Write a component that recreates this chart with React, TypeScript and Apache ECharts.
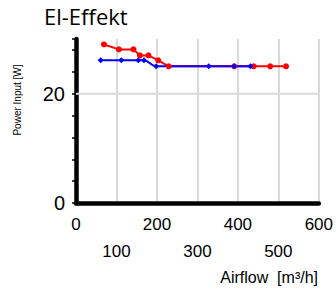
import React, { useEffect, useRef } from "react";
import * as echarts from "echarts";

const redX = [69, 106, 142, 158, 179, 203, 229, 391, 439, 480, 519];
const redY = [29, 28.1, 28.1, 27, 27, 26.1, 25, 25, 25, 25, 25];
const blueX = [61, 112, 154, 168, 198, 328, 391, 431];
const blueY = [26.1, 26.1, 26.1, 26.1, 25, 25, 25, 25];
const yLabels = [0, 20];
const gridLineY = 20;
const xMin = 0;
const xMax = 600;

export default function App() {
  const ref = useRef<HTMLDivElement>(null);
  useEffect(() => {
    if (!ref.current) return;
    const chart = echarts.init(ref.current, null, { renderer: "svg" });
    const font = "Liberation Sans, Arial, sans-serif";
    chart.setOption({
      animation: false,
      title: {
        text: "El-Effekt",
        left: 44,
        top: 5,
        padding: 0,
        textStyle: { fontFamily: "Open Sans", fontSize: 22, fontWeight: "normal", color: "#000" },
      },
      grid: { left: 76, right: 13.5, top: 39, bottom: 86, containLabel: false },
      xAxis: {
        type: "value",
        min: xMin,
        max: xMax,
        interval: 100,
        axisLine: { show: true, onZero: false, lineStyle: { color: "#000", width: 4.5 } },
        axisTick: { show: false },
        splitLine: { show: true, lineStyle: { color: "#d9d9d9", width: 2 } },
        axisLabel: {
          margin: 8,
          fontFamily: font,
          fontSize: 17,
          color: "#000",
          lineHeight: 27,
          formatter: (v: number) => ((v / 100) % 2 === 1 ? "\n" + v : String(v)),
        },
      },
      yAxis: {
        type: "value",
        min: 0,
        max: 30,
        interval: 4,
        axisLine: { show: true, lineStyle: { color: "#000", width: 4.5 } },
        axisTick: { show: true, length: 4, lineStyle: { color: "#000", width: 1.5 } },
        splitLine: { show: false },
        axisLabel: {
          margin: 11,
          fontFamily: font,
          fontSize: 20,
          color: "#000",
          formatter: (v: number) => (yLabels.includes(v) ? String(v) : ""),
        },
      },
      graphic: [
        {
          type: "text",
          x: 17,
          y: 100,
          rotation: Math.PI / 2,
          style: {
            text: "Power Input [W]",
            fontFamily: font,
            fontSize: 10,
            fill: "#000",
            align: "center",
            verticalAlign: "middle",
          },
        },
        {
          type: "text",
          x: 318,
          y: 277,
          style: {
            text: "Airflow  [m³/h]",
            fontFamily: font,
            fontSize: 16,
            fill: "#000",
            align: "right",
            verticalAlign: "middle",
          },
        },
      ],
      series: [
        {
          type: "line",
          silent: true,
          z: 0,
          data: [
            [xMin, gridLineY],
            [xMax, gridLineY],
          ],
          symbol: "none",
          lineStyle: { color: "#d9d9d9", width: 2 },
          tooltip: { show: false },
        },
        {
          type: "line",
          data: redX.map((x, i) => [x, redY[i]]),
          symbol: "circle",
          symbolSize: 6,
          itemStyle: { color: "#ff0000" },
          lineStyle: { color: "#ff0000", width: 2 },
        },
        {
          type: "line",
          data: blueX.map((x, i) => [x, blueY[i]]),
          symbol: "diamond",
          symbolSize: 6,
          smooth: 0.4,
          itemStyle: { color: "#0000ff" },
          lineStyle: { color: "#0000ff", width: 2 },
        },
      ],
    });
    return () => chart.dispose();
  }, []);
  return (
    <div
      ref={ref}
      style={{ position: "fixed", left: 0, top: 0, width: 336, height: 289, background: "#fff" }}
    />
  );
}
